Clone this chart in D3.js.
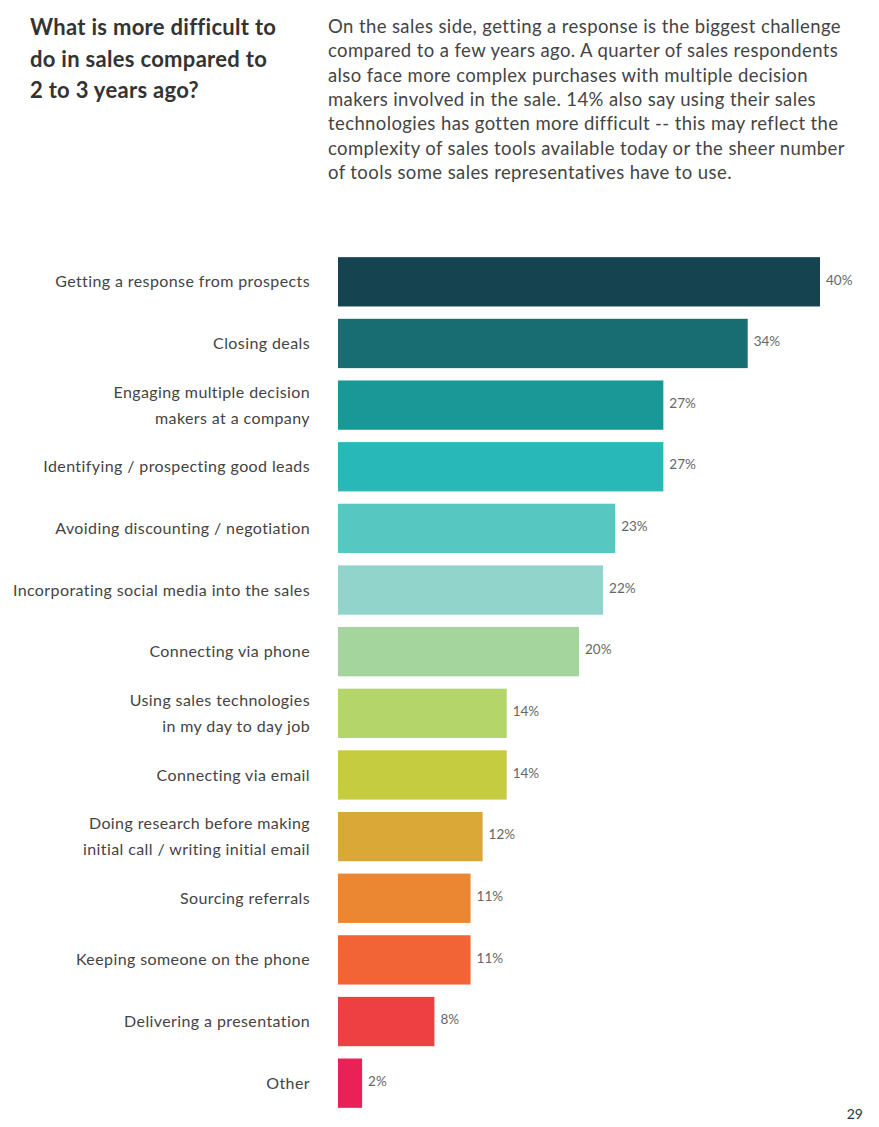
<!DOCTYPE html>
<html lang="en">
<head>
    <meta charset="UTF-8">
    <title>What is more difficult to do in sales</title>
    <script src="https://d3js.org/d3.v7.min.js"></script>
    <style>
        body { margin: 0; background: #fff; }
        svg text { font-family: 'Lato', 'Open Sans', sans-serif; }
    </style>
</head>
<body>
    <div id="chart"></div>

    <script>
        // chart data
        const categories = [
            ['Getting a response from prospects'],
            ['Closing deals'],
            ['Engaging multiple decision', 'makers at a company'],
            ['Identifying / prospecting good leads'],
            ['Avoiding discounting / negotiation'],
            ['Incorporating social media into the sales'],
            ['Connecting via phone'],
            ['Using sales technologies', 'in my day to day job'],
            ['Connecting via email'],
            ['Doing research before making', 'initial call / writing initial email'],
            ['Sourcing referrals'],
            ['Keeping someone on the phone'],
            ['Delivering a presentation'],
            ['Other']
        ];
        const values = [40, 34, 27, 27, 23, 22, 20, 14, 14, 12, 11, 11, 8, 2];
        const barColors = [
            '#15434f', '#186d72', '#1a9898', '#29b8b8', '#57c7c2', '#90d4cb', '#a4d59c',
            '#b3d56a', '#c5cc40', '#d9a836', '#eb8632', '#f26335', '#ee4043', '#ea2157'
        ];
        const titleLines = ['What is more difficult to', 'do in sales compared to', '2 to 3 years ago?'];
        const introLines = [
            'On the sales side, getting a response is the biggest challenge',
            'compared to a few years ago. A quarter of sales respondents',
            'also face more complex purchases with multiple decision',
            'makers involved in the sale. 14% also say using their sales',
            'technologies has gotten more difficult -- this may reflect the',
            'complexity of sales tools available today or the sheer number',
            'of tools some sales representatives have to use.'
        ];
        const pageNumber = '29';

        const width = 879, height = 1127;
        const svg = d3.select('#chart').append('svg')
            .attr('width', width)
            .attr('height', height);

        // heading
        svg.append('g').selectAll('text')
            .data(titleLines)
            .join('text')
            .attr('x', 30)
            .attr('y', (d, i) => 35 + i * 31.5)
            .style('font-size', '22px')
            .style('font-weight', 'bold')
            .style('letter-spacing', '0.3px')
            .style('fill', '#333')
            .text(d => d);

        svg.append('g').selectAll('text')
            .data(introLines)
            .join('text')
            .attr('x', 328)
            .attr('y', (d, i) => 33 + i * 24.3)
            .style('font-size', '18.5px')
            .style('letter-spacing', '0.4px')
            .style('fill', '#444')
            .text(d => d);

        // scales
        const x = d3.scaleLinear().domain([0, 40]).range([338, 820]);
        const y = d3.scaleBand()
            .domain(d3.range(values.length))
            .range([251, 1114])
            .paddingInner(0.2)
            .paddingOuter(0.1);

        const rows = svg.append('g').selectAll('g')
            .data(values)
            .join('g');

        rows.append('rect')
            .attr('x', x(0))
            .attr('y', (d, i) => y(i))
            .attr('width', d => x(d) - x(0))
            .attr('height', y.bandwidth())
            .style('fill', (d, i) => barColors[i]);

        rows.append('text')
            .attr('x', d => x(d) + 6)
            .attr('y', (d, i) => y(i) + y.bandwidth() / 2 - 2)
            .attr('dy', '0.35em')
            .style('font-size', '13.5px')
            .style('fill', '#666')
            .text(d => d + '%');

        // category labels, right aligned
        rows.append('text')
            .attr('text-anchor', 'end')
            .style('font-size', '16px')
            .style('letter-spacing', '0.4px')
            .style('fill', '#444')
            .each(function (d, i) {
                const lines = categories[i];
                const cy = y(i) + y.bandwidth() / 2;
                d3.select(this).selectAll('tspan')
                    .data(lines)
                    .join('tspan')
                    .attr('x', 310)
                    .attr('y', (t, j) => cy + (j - (lines.length - 1) / 2) * 26)
                    .attr('dy', '0.35em')
                    .text(t => t);
            });

        svg.append('text')
            .attr('x', 863)
            .attr('y', 1119)
            .attr('text-anchor', 'end')
            .style('font-size', '14px')
            .style('fill', '#333')
            .text(pageNumber);
    </script>
</body>
</html>
